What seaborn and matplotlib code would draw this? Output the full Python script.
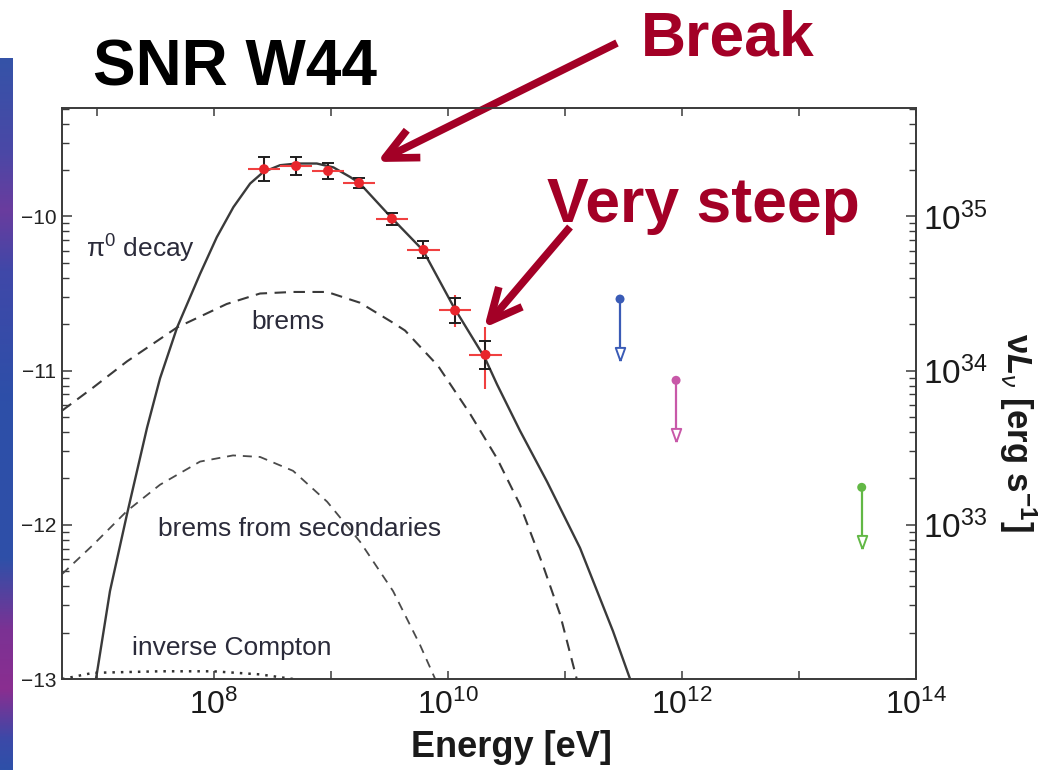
import numpy as np
import matplotlib
matplotlib.use("Agg")
import matplotlib.pyplot as plt
import seaborn as sns
from matplotlib.ticker import FixedLocator, LogLocator, FuncFormatter, NullFormatter, NullLocator
from matplotlib.colors import LinearSegmentedColormap

# ---------------- data (log10 values) ----------------
pi0_logE = [6.99, 7.00, 7.11, 7.256, 7.427, 7.538, 7.684, 7.880, 8.023, 8.165, 8.308, 8.421,
            8.564, 8.707, 8.878, 9.020, 9.162, 9.242, 9.513, 9.786, 10.05, 10.316,
            10.419, 10.615, 10.846, 11.128, 11.41, 11.556]
pi0_logF = [-13.00, -12.955, -12.43, -11.93, -11.37, -11.05, -10.72, -10.373, -10.135, -9.940,
            -9.787, -9.712, -9.668, -9.657, -9.657, -9.682, -9.744, -9.783, -10.006, -10.22,
            -10.59, -10.92, -11.09, -11.39, -11.72, -12.15, -12.69, -13.00]

brems_logE = [6.70, 6.966, 7.256, 7.684, 8.108, 8.393, 8.675, 8.966, 9.248, 9.53, 9.632,
              9.915, 10.188, 10.419, 10.615, 10.81, 10.957, 11.10]
brems_logF = [-11.26, -11.11, -10.94, -10.72, -10.568, -10.50, -10.49, -10.49, -10.56, -10.69,
              -10.74, -10.97, -11.28, -11.57, -11.87, -12.26, -12.58, -13.00]

sec_logE = [6.70, 6.966, 7.256, 7.538, 7.88, 8.162, 8.393, 8.675, 8.966, 9.248, 9.53, 9.761, 9.89]
sec_logF = [-12.32, -12.13, -11.91, -11.74, -11.59, -11.55, -11.56, -11.65, -11.85, -12.11,
            -12.43, -12.78, -13.00]

ic_logE = [6.70, 6.77, 6.966, 7.538, 7.99, 8.39, 8.675]
ic_logF = [-13.00, -12.99, -12.96, -12.95, -12.95, -12.97, -13.00]

pts_logE = [8.427, 8.701, 8.974, 9.239, 9.52, 9.79, 10.06, 10.32]
pts_logF = [-9.694, -9.673, -9.705, -9.783, -10.015, -10.217, -10.61, -10.898]
stat_err = [0.076, 0.060, 0.050, 0.030, 0.040, 0.055, 0.080, 0.090]
sys_err_up = [0.076, 0.060, 0.050, 0.030, 0.040, 0.055, 0.100, 0.180]
sys_err_dn = [0.076, 0.060, 0.050, 0.030, 0.040, 0.055, 0.110, 0.220]
bin_halfwidth = [0.14, 0.14, 0.14, 0.14, 0.14, 0.14, 0.14, 0.14]

ul_logE = [11.47, 11.949, 13.536]
ul_logF = [-10.536, -11.063, -11.757]
ul_colors = ["#3a5bb6", "#c858a8", "#62b845"]

curve_labels = ["$\\mathregular{\\pi^{0}}$ decay", "brems", "brems from secondaries", "inverse Compton"]
curve_label_logE = [6.906, 8.316, 7.521, 7.30]
curve_label_logF = [-10.267, -10.729, -12.075, -12.843]

x_ticks_exp = [7, 8, 9, 10, 11, 12, 13, 14]
x_label_exp = [8, 10, 12, 14]
lum_offset = 45  # log10(nuL_nu) = log10(flux) + 45

# ---------------- style ----------------
sns.set_theme(style="ticks")
plt.rcParams["font.family"] = ["Liberation Sans", "DejaVu Sans"]
plt.rcParams["mathtext.fontset"] = "custom"
plt.rcParams["mathtext.rm"] = "Liberation Sans"
plt.rcParams["mathtext.it"] = "Liberation Sans:italic"
plt.rcParams["mathtext.bf"] = "Liberation Sans:bold"
plt.rcParams["mathtext.bfit"] = "Liberation Sans:italic:bold"

W, H = 1042, 770
fig = plt.figure(figsize=(W / 100, H / 100), dpi=100)
fig.patch.set_facecolor("white")

# decorative gradient strip on the left (from slide background)
strip = fig.add_axes([0, 0, 12.5 / W, (H - 58) / H])
stops = [(0.0, "#2e50a8"), (0.042, "#3c49a8"), (0.112, "#8a2e90"), (0.197, "#7b3294"),
         (0.295, "#2f50a8"), (0.52, "#2d4fa8"), (0.702, "#4048a8"), (0.787, "#6a3c9e"),
         (0.871, "#4a48a6"), (1.0, "#3553a8")]
cmap = LinearSegmentedColormap.from_list("strip", stops)
strip.imshow(np.linspace(0, 1, 256).reshape(-1, 1), aspect="auto", cmap=cmap, origin="lower",
             extent=[0, 1, 0, 1])
strip.set_axis_off()

ax = fig.add_axes([62 / W, 1 - 679 / H, (916 - 62) / W, (679 - 108) / H])
ax.set_xscale("log")
ax.set_yscale("log")
ax.set_xlim(10 ** 6.70, 1e14)
ax.set_ylim(1e-13, 10 ** -9.297)

E = lambda a: 10 ** np.asarray(a, dtype=float)

# model curves
sns.lineplot(x=E(pi0_logE), y=E(pi0_logF), ax=ax, color="#3a3a3a", lw=1.7,
             sort=False, estimator=None, zorder=2)
sns.lineplot(x=E(brems_logE), y=E(brems_logF), ax=ax, color="#3a3a3a", lw=1.5,
             linestyle=(0, (5.5, 3.6)), sort=False, estimator=None, zorder=2)
sns.lineplot(x=E(sec_logE), y=E(sec_logF), ax=ax, color="#4a4a4a", lw=1.3,
             linestyle=(0, (5.0, 3.8)), sort=False, estimator=None, zorder=2)
sns.lineplot(x=E(ic_logE), y=E(ic_logF), ax=ax, color="#333333", lw=1.8,
             linestyle=(0, (1.0, 2.4)), sort=False, estimator=None, zorder=2)

# data points
pE = E(pts_logE)
pF = E(pts_logF)
xerr = [pE * (1 - 10 ** -np.array(bin_halfwidth)), pE * (10 ** np.array(bin_halfwidth) - 1)]
sys_err = [pF * (1 - 10 ** -np.array(sys_err_dn)), pF * (10 ** np.array(sys_err_up) - 1)]
st_err = [pF * (1 - 10 ** -np.array(stat_err)), pF * (10 ** np.array(stat_err) - 1)]
ax.errorbar(pE, pF, xerr=xerr, yerr=sys_err, fmt="none", ecolor="#f04040", elinewidth=1.5,
            capsize=0, zorder=3)
ax.errorbar(pE, pF, yerr=st_err, fmt="none", ecolor="#1e1e1e", elinewidth=1.4,
            capsize=4.5, capthick=1.4, zorder=4)
sns.scatterplot(x=pE, y=pF, ax=ax, color="#e8262c", s=52, edgecolor="none", zorder=5)

# upper limits
arrow_dex = 0.40
tri = [(0, -1), (-0.72, 1), (0.72, 1), (0, -1)]
for lx, ly, c in zip(ul_logE, ul_logF, ul_colors):
    xe, ye = 10 ** lx, 10 ** ly
    ax.plot([xe, xe], [ye, ye * 10 ** (-arrow_dex + 0.08)], color=c, lw=1.6, zorder=4)
    ax.plot([xe], [ye * 10 ** (-arrow_dex + 0.043)], marker=tri, ms=9.5, mfc="white",
            mec=c, mew=1.4, zorder=5)
    sns.scatterplot(x=[xe], y=[ye], ax=ax, color=c, s=42, edgecolor="none", zorder=6)

# curve labels
for t, lx, ly in zip(curve_labels, curve_label_logE, curve_label_logF):
    ax.text(10 ** lx, 10 ** ly, t, fontsize=19, color="#2b2b3a", ha="left", va="baseline", zorder=6)

# axes styling
for s in ax.spines.values():
    s.set_color("#3a3a3a")
    s.set_linewidth(1.2)

ax.xaxis.set_major_locator(FixedLocator([10.0 ** k for k in x_ticks_exp]))
ax.xaxis.set_minor_locator(NullLocator())
ax.xaxis.set_major_formatter(FuncFormatter(
    lambda v, p: (r"$\mathregular{10^{%d}}$" % round(np.log10(v))) if round(np.log10(v)) in x_label_exp else ""))
ax.tick_params(axis="x", which="major", direction="in", top=True, bottom=True, length=6,
               width=1.1, color="#3a3a3a", labelsize=23, pad=8, labelcolor="#1a1a1a")

ax.yaxis.set_major_locator(LogLocator(base=10, numticks=20))
ax.yaxis.set_minor_locator(LogLocator(base=10, subs=np.arange(2, 10), numticks=20))
ax.yaxis.set_minor_formatter(NullFormatter())
ax.yaxis.set_major_formatter(FuncFormatter(lambda v, p: "\u2212%d" % abs(round(np.log10(v)))))
ax.tick_params(axis="y", which="major", direction="in", left=True, right=False, length=7,
               width=1.1, color="#3a3a3a", labelsize=15, pad=4, labelcolor="#222222")
ax.tick_params(axis="y", which="minor", direction="in", left=True, right=False, length=5,
               width=1.0, color="#3a3a3a")
ax.set_ylabel("")

ax2 = ax.twinx()
ax2.set_yscale("log")
ax2.set_ylim(10.0 ** (-13 + lum_offset), 10.0 ** (-9.297 + lum_offset))
ax2.yaxis.set_major_locator(LogLocator(base=10, numticks=20))
ax2.yaxis.set_minor_locator(LogLocator(base=10, subs=np.arange(2, 10), numticks=20))
ax2.yaxis.set_minor_formatter(NullFormatter())
ax2.yaxis.set_major_formatter(FuncFormatter(
    lambda v, p: (r"$\mathregular{10^{%d}}$" % round(np.log10(v))) if round(np.log10(v)) >= 33 else ""))
ax2.tick_params(axis="y", which="major", direction="in", right=True, length=7, width=1.1,
                color="#3a3a3a", labelsize=24, pad=5, labelcolor="#1a1a1a")
ax2.tick_params(axis="y", which="minor", direction="in", right=True, length=5, width=1.0,
                color="#3a3a3a")
for s in ax2.spines.values():
    s.set_color("#3a3a3a")
    s.set_linewidth(1.2)

# axis labels
ax.set_xlabel("Energy [eV]", fontsize=26, fontweight="bold", color="#1a1a1a")
ax.xaxis.set_label_coords(0.526, -0.090)
fig.text(1018 / W, 1 - 432 / H, "\u03bd$\\mathbfit{L}_{\\nu}$ [erg s$^{\\mathbf{-1}}$]",
         rotation=-90, fontsize=25, fontweight="bold", ha="center", va="center", color="#1a1a1a")

# title and annotations
fig.text(93 / W, 1 - 85 / H, "SNR W44", fontsize=46, fontweight="bold", color="black",
         ha="left", va="baseline")
red = "#a30026"
fig.text(641 / W, 1 - 55 / H, "Break", fontsize=45, fontweight="bold", color=red,
         ha="left", va="baseline")
fig.text(547 / W, 1 - 222 / H, "Very steep", fontsize=45, fontweight="bold", color=red,
         ha="left", va="baseline")
for (x0, y0), (x1, y1) in [((617, 43), (377, 162)), ((570, 227), (484, 328))]:
    ax.annotate("", xy=(x1 / W, 1 - y1 / H), xycoords="figure fraction",
                xytext=(x0 / W, 1 - y0 / H), textcoords="figure fraction",
                arrowprops=dict(arrowstyle="->,head_length=1.15,head_width=0.55", lw=5.5,
                                color=red, mutation_scale=20, shrinkA=0, shrinkB=0,
                                joinstyle="round", capstyle="butt"),
                annotation_clip=False)

fig.savefig("out.png", dpi=100, facecolor="white")
